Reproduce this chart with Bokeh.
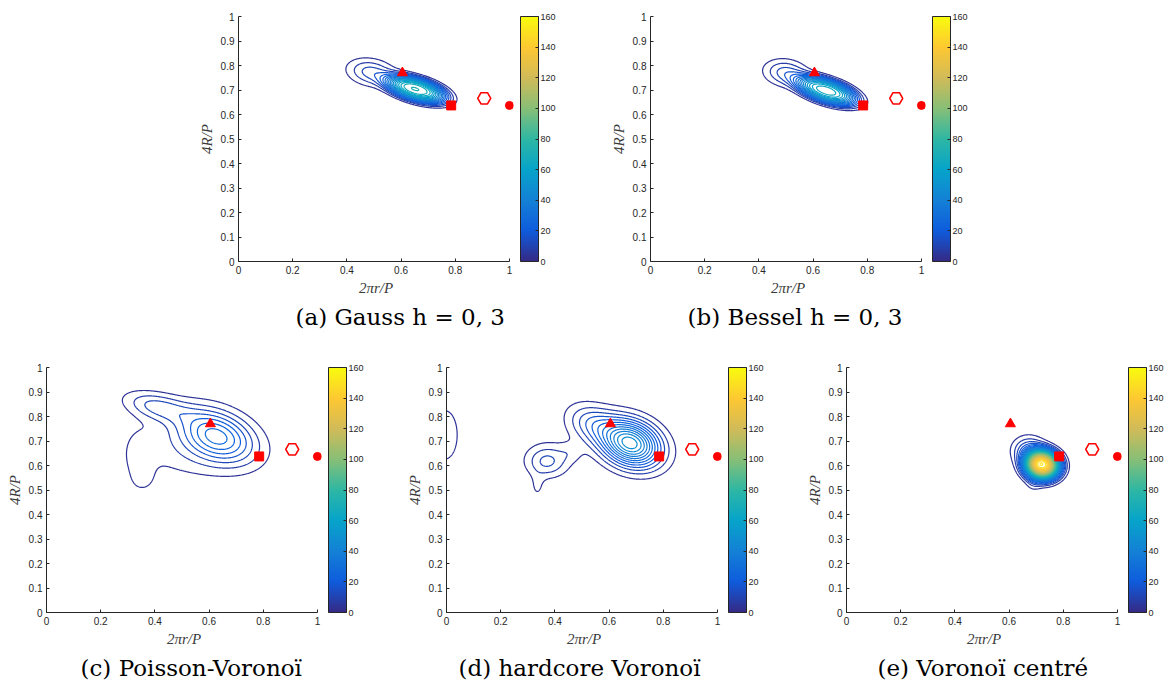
import numpy as np
from bokeh.plotting import figure
from bokeh.models import LinearColorMapper, ColorBar, FixedTicker, Title, Spacer
from bokeh.layouts import row, column
from bokeh.embed import file_html
from bokeh.resources import INLINE

# ---------------- data ----------------
x_ticks = [0, 0.2, 0.4, 0.6, 0.8, 1]
y_ticks = [0, 0.1, 0.2, 0.3, 0.4, 0.5, 0.6, 0.7, 0.8, 0.9, 1]
cbar_ticks = [0, 20, 40, 60, 80, 100, 120, 140, 160]
contour_levels = [4, 8, 12, 16, 20, 24, 28, 32, 36, 40, 44, 48, 52, 56, 60, 64, 68, 72, 76, 80,
                  84, 88, 92, 96, 100, 104, 108, 112, 116, 120, 124, 128, 132, 136, 140, 144, 148, 152, 156]

# reference shapes (2*pi*r/P, 4R/P)
triangle_x, triangle_y = [0.605], [0.770]
square_x, square_y = [0.785], [0.637]
hexagon_x, hexagon_y = [0.907], [0.666]
circle_x, circle_y = [1.0], [0.637]

# density estimates, as sums of elliptical bumps:
# centre x, centre y, major sigma, minor sigma, major-axis angle (deg), peak height, profile power
gauss_cx = [0.655, 0.490]
gauss_cy = [0.703, 0.772]
gauss_smaj = [0.088, 0.060]
gauss_smin = [0.035, 0.036]
gauss_ang = [-18, -12]
gauss_amp = [72, 14]
gauss_pow = [3, 2]

bessel_cx = [0.650, 0.500]
bessel_cy = [0.697, 0.770]
bessel_smaj = [0.090, 0.055]
bessel_smin = [0.036, 0.036]
bessel_ang = [-20, -10]
bessel_amp = [66, 14]
bessel_pow = [3, 2]

pv_cx = [0.630, 0.410, 0.520, 0.340, 0.360]
pv_cy = [0.722, 0.840, 0.660, 0.620, 0.535]
pv_smaj = [0.100, 0.085, 0.160, 0.090, 0.035]
pv_smin = [0.065, 0.037, 0.090, 0.040, 0.035]
pv_ang = [-27, -15, -5, 90, 0]
pv_amp = [27, 13, 5.5, 4, 2]
pv_pow = [2, 2, 2, 2, 2]

hc_cx = [0.680, 0.540, 0.370, 0.380, 0.335, 0.460, -0.005]
hc_cy = [0.690, 0.770, 0.615, 0.635, 0.510, 0.655, 0.725]
hc_smaj = [0.078, 0.070, 0.050, 0.075, 0.040, 0.030, 0.100]
hc_smin = [0.060, 0.050, 0.042, 0.060, 0.020, 0.028, 0.045]
hc_ang = [-30, -30, 0, 0, 90, 0, 90]
hc_amp = [50, 14, 10, 3.5, 4, 3.5, 6.5]
hc_pow = [2, 2, 2, 2, 2, 2, 2]

vc_cx = [0.722, 0.672, 0.690]
vc_cy = [0.603, 0.662, 0.525]
vc_smaj = [0.046, 0.040, 0.020]
vc_smin = [0.042, 0.038, 0.025]
vc_ang = [-15, 0, 0]
vc_amp = [150, 16, 4]
vc_pow = [2.5, 2, 2]

captions = ["(a) Gauss h = 0, 3", "(b) Bessel h = 0, 3", "(c) Poisson-Voronoï",
            "(d) hardcore Voronoï", "(e) Voronoï centré"]

# ---------------- styling ----------------
parula_anchors = ["#352A87", "#0F5CDD", "#1481D6", "#06A4CA", "#2EB7A4",
                  "#87BF77", "#D1BB59", "#FEC832", "#F9FB0E"]


def hex2rgb(h):
    return np.array([int(h[i:i + 2], 16) for i in (1, 3, 5)], dtype=float)


def build_palette(anchors, n=256):
    rgb = np.array([hex2rgb(a) for a in anchors])
    pos = np.linspace(0, 1, len(anchors))
    t = np.linspace(0, 1, n)
    out = []
    for v in t:
        c = [np.interp(v, pos, rgb[:, k]) for k in range(3)]
        out.append("#%02x%02x%02x" % tuple(int(round(x)) for x in c))
    return out


PARULA = build_palette(parula_anchors)
CMAX = 160.0
AX_COL = "#262626"

gx = np.linspace(0, 1, 401)
gy = np.linspace(0, 1, 401)
GX, GY = np.meshgrid(gx, gy)


def density(cx, cy, smaj, smin, ang, amp, pw):
    Z = np.zeros_like(GX)
    for x0, y0, a, b, th, A, k in zip(cx, cy, smaj, smin, ang, amp, pw):
        t = np.deg2rad(th)
        dx, dy = GX - x0, GY - y0
        u = dx * np.cos(t) + dy * np.sin(t)
        v = -dx * np.sin(t) + dy * np.cos(t)
        r2 = (u / a) ** 2 + (v / b) ** 2
        Z += A * np.exp(-0.5 * r2 ** (k / 2.0))
    return Z


def level_color(v):
    i = int(round(v / CMAX * (len(PARULA) - 1)))
    return PARULA[max(0, min(len(PARULA) - 1, i))]


def make_panel(params, caption, border_top, border_bottom, cap_left):
    p = figure(frame_width=275, frame_height=245, x_range=(0, 1.015), y_range=(0, 1),
               output_backend="svg", toolbar_location=None,
               min_border_left=46, min_border_right=46, min_border_top=border_top,
               min_border_bottom=border_bottom)
    p.outline_line_color = None
    p.grid.visible = False
    p.background_fill_color = "white"
    p.border_fill_color = "white"

    Z = density(*params)
    lv = [l for l in contour_levels if l < Z.max()]
    p.contour(x=gx, y=gy, z=Z, levels=lv, line_color=[level_color(l) for l in lv], line_width=1.2)

    p.scatter(triangle_x, triangle_y, marker="triangle", size=10, color="red")
    p.scatter(square_x, square_y, marker="square", size=9, color="red")
    p.scatter(hexagon_x, hexagon_y, marker="hex", size=13, line_color="red",
              fill_color=None, line_width=1.6)
    p.scatter(circle_x, circle_y, marker="circle", size=8, color="red")

    p.xaxis.ticker = FixedTicker(ticks=x_ticks)
    p.yaxis.ticker = FixedTicker(ticks=y_ticks)
    p.xaxis.bounds = (0, 1)
    p.xaxis.axis_label = "2πr/P"
    p.yaxis.axis_label = "4R/P"
    for ax in (p.xaxis[0], p.yaxis[0]):
        ax.axis_line_color = AX_COL
        ax.major_tick_line_color = AX_COL
        ax.major_tick_in = 3
        ax.major_tick_out = 0
        ax.minor_tick_line_color = None
        ax.major_label_text_font = "Liberation Sans"
        ax.major_label_text_font_size = "10px"
        ax.major_label_text_color = AX_COL
        ax.major_label_standoff = 4
        ax.axis_label_text_font = "Liberation Serif"
        ax.axis_label_text_font_style = "italic"
        ax.axis_label_text_font_size = "15px"
        ax.axis_label_text_color = "#3a3a3a"
        ax.axis_label_standoff = 3

    mapper = LinearColorMapper(palette=PARULA, low=0, high=CMAX)
    cb = ColorBar(color_mapper=mapper, ticker=FixedTicker(ticks=cbar_ticks),
                  width=18, height=245, padding=0, margin=0, label_standoff=2,
                  major_label_text_font="Liberation Sans", major_label_text_font_size="9px",
                  major_label_text_color=AX_COL, major_tick_line_color=AX_COL,
                  major_tick_in=3, bar_line_color=AX_COL, bar_line_width=1,
                  background_fill_color=None, location=(7, 0))
    p.add_layout(cb, "right")

    p.add_layout(Title(text=caption, align="left", text_font="DejaVu Serif",
                       text_font_size="23px", text_font_style="normal",
                       text_color="black", standoff=7, offset=cap_left), "below")
    return p


pa = make_panel((gauss_cx, gauss_cy, gauss_smaj, gauss_smin, gauss_ang, gauss_amp, gauss_pow),
                captions[0], 16, 98, 57)
pb = make_panel((bessel_cx, bessel_cy, bessel_smaj, bessel_smin, bessel_ang, bessel_amp, bessel_pow),
                captions[1], 16, 98, 37)
pc = make_panel((pv_cx, pv_cy, pv_smaj, pv_smin, pv_ang, pv_amp, pv_pow), captions[2], 8, 72, 34)
pd = make_panel((hc_cx, hc_cy, hc_smaj, hc_smin, hc_ang, hc_amp, hc_pow), captions[3], 8, 72, 12)
pe = make_panel((vc_cx, vc_cy, vc_smaj, vc_smin, vc_ang, vc_amp, vc_pow), captions[4], 8, 72, 31)

top = row(Spacer(width=192), pa, Spacer(width=45), pb)
bottom = row(pc, Spacer(width=33), pd, Spacer(width=33), pe)
layout = column(top, bottom)

open("out.html", "w").write(file_html(layout, INLINE))
